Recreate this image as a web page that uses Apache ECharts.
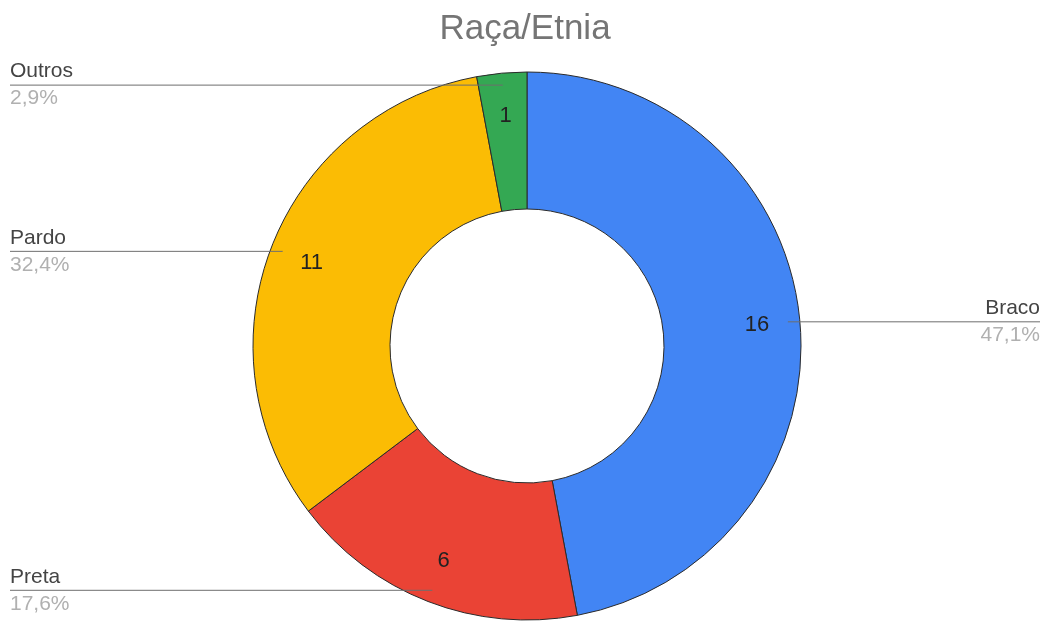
<!DOCTYPE html>
<html>
<head>
<meta charset="utf-8">
<script src="https://cdn.jsdelivr.net/npm/echarts@6/dist/echarts.min.js"></script>
<style>
  html, body { margin: 0; padding: 0; background: #fff; }
  #chart { width: 1050px; height: 622px; }
</style>
</head>
<body>
<div id="chart"></div>
<script>
var categories = ['Braco', 'Preta', 'Pardo', 'Outros'];
var counts = [16, 6, 11, 1];
var colors = ['#4285F4', '#EA4335', '#FBBC04', '#34A853'];

var CX = 527, CY = 346, R_OUT = 274, R_IN = 137;
var FONT = 'Arial, "Liberation Sans", sans-serif';

var chart = echarts.init(document.getElementById('chart'), null, { renderer: 'canvas' });

var data = categories.map(function (name, i) {
  return { name: name, value: counts[i], itemStyle: { color: colors[i] } };
});
var hidden = { color: 'rgba(0,0,0,0)', borderWidth: 0 };

var option = {
  backgroundColor: '#fff',
  title: {
    text: 'Raça/Etnia',
    left: 'center',
    top: 7,
    textStyle: { fontFamily: FONT, fontSize: 35, fontWeight: 'normal', color: '#757575' }
  },
  series: [{
    // the donut itself
    type: 'pie',
    center: [CX, CY],
    radius: [R_IN, R_OUT],
    startAngle: 90,
    silent: true,
    z: 2,
    itemStyle: { borderColor: '#2b2b2b', borderWidth: 1 },
    label: { show: false },
    labelLine: { show: false },
    data: data
  }, {
    // value labels, sitting in the outer part of the ring
    type: 'pie',
    center: [CX, CY],
    radius: [182, R_OUT],
    startAngle: 90,
    silent: true,
    z: 3,
    itemStyle: hidden,
    label: {
      position: 'inside',
      formatter: '{c}',
      fontFamily: FONT,
      fontSize: 22,
      color: '#222'
    },
    labelLine: { show: false },
    data: categories.map(function (name, i) { return { name: name, value: counts[i] }; })
  }, {
    // name + percent at the edges, leader line starting inside the slice
    type: 'pie',
    center: [CX, CY],
    radius: [R_IN, 262],
    startAngle: 90,
    silent: true,
    z: 4,
    percentPrecision: 1,
    avoidLabelOverlap: false,
    itemStyle: hidden,
    label: {
      position: 'outside',
      alignTo: 'edge',
      edgeDistance: 10,
      formatter: function (p) {
        return '{n|' + p.name + '}\n{p|' + p.percent.toFixed(1).replace('.', ',') + '%}';
      },
      rich: {
        n: { fontFamily: FONT, fontSize: 21, color: '#444', lineHeight: 27 },
        p: { fontFamily: FONT, fontSize: 21, color: '#b0b0b0', lineHeight: 27 }
      }
    },
    labelLine: { show: true, length: 0, length2: 10, lineStyle: { color: '#6e6e6e', width: 1 } },
    labelLayout: function (params) {
      var isLeft = params.labelRect.x < chart.getWidth() / 2;
      var points = params.labelLinePoints;
      points[2][0] = isLeft ? params.labelRect.x : params.labelRect.x + params.labelRect.width;
      return { labelLinePoints: points };
    },
    data: categories.map(function (name, i) { return { name: name, value: counts[i] }; })
  }]
};

chart.setOption(option);
</script>
</body>
</html>
